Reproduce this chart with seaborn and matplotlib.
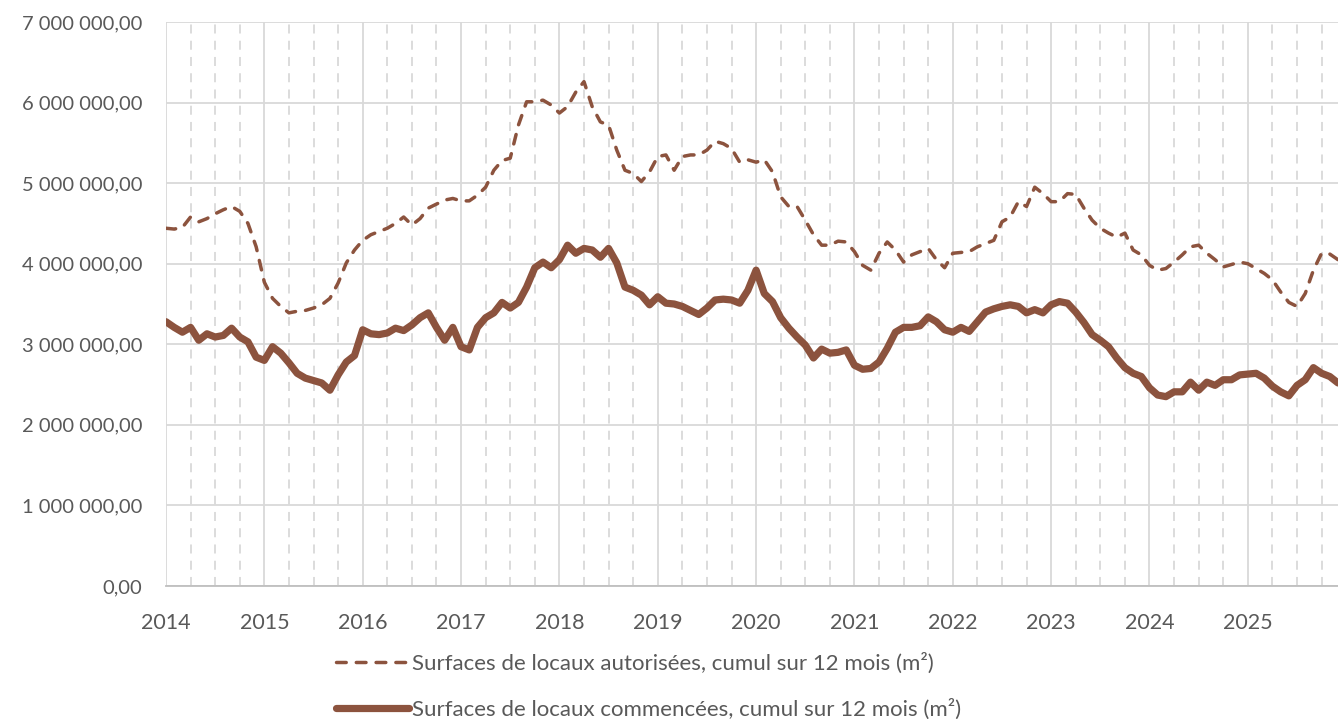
import numpy as np
import pandas as pd
import matplotlib
matplotlib.use("Agg")
import matplotlib.pyplot as plt
import seaborn as sns
from matplotlib.ticker import FuncFormatter, MultipleLocator

# -----------------------------
# Data (monthly, Jan 2014 -> Dec 2025), values in m²
# -----------------------------
annees = ["2014", "2015", "2016", "2017", "2018", "2019",
          "2020", "2021", "2022", "2023", "2024", "2025"]

autorisees = [
    # 2014
    4.44, 4.43, 4.45, 4.58, 4.52, 4.56, 4.62, 4.67, 4.71, 4.65, 4.50, 4.21,
    # 2015
    3.77, 3.57, 3.47, 3.39, 3.41, 3.42, 3.45, 3.49, 3.57, 3.76, 4.01, 4.17,
    # 2016
    4.29, 4.36, 4.40, 4.44, 4.50, 4.58, 4.48, 4.56, 4.69, 4.74, 4.79, 4.81,
    # 2017
    4.78, 4.78, 4.85, 4.95, 5.16, 5.28, 5.31, 5.72, 6.01, 6.01, 6.03, 5.97,
    # 2018
    5.87, 5.95, 6.13, 6.26, 5.95, 5.76, 5.72, 5.41, 5.16, 5.12, 5.02, 5.14,
    # 2019
    5.33, 5.35, 5.16, 5.33, 5.35, 5.35, 5.41, 5.52, 5.49, 5.43, 5.26, 5.29,
    # 2020
    5.26, 5.29, 5.14, 4.83, 4.71, 4.71, 4.54, 4.36, 4.23, 4.23, 4.28, 4.27,
    # 2021
    4.15, 3.98, 3.92, 4.13, 4.27, 4.17, 4.02, 4.11, 4.15, 4.19, 4.05, 3.95,
    # 2022
    4.13, 4.14, 4.15, 4.21, 4.25, 4.29, 4.52, 4.58, 4.77, 4.71, 4.95, 4.87,
    # 2023
    4.77, 4.77, 4.87, 4.86, 4.69, 4.54, 4.44, 4.38, 4.33, 4.38, 4.17, 4.11,
    # 2024
    3.98, 3.92, 3.94, 4.02, 4.11, 4.21, 4.23, 4.13, 4.05, 3.96, 3.99, 4.02,
    # 2025
    4.00, 3.94, 3.88, 3.80, 3.65, 3.52, 3.47, 3.63, 3.92, 4.13, 4.12, 4.05,
]

commencees = [
    # 2014
    3.28, 3.21, 3.15, 3.21, 3.05, 3.13, 3.09, 3.11, 3.20, 3.09, 3.03, 2.84,
    # 2015
    2.80, 2.97, 2.89, 2.77, 2.64, 2.58, 2.55, 2.52, 2.43, 2.62, 2.78, 2.86,
    # 2016
    3.18, 3.13, 3.12, 3.14, 3.20, 3.17, 3.24, 3.33, 3.39, 3.21, 3.05, 3.21,
    # 2017
    2.97, 2.93, 3.21, 3.33, 3.39, 3.52, 3.45, 3.52, 3.71, 3.95, 4.02, 3.95,
    # 2018
    4.05, 4.23, 4.13, 4.19, 4.17, 4.08, 4.19, 4.01, 3.71, 3.67, 3.61, 3.49,
    # 2019
    3.59, 3.51, 3.50, 3.47, 3.42, 3.37, 3.45, 3.55, 3.56, 3.55, 3.51, 3.67,
    # 2020
    3.92, 3.63, 3.53, 3.33, 3.20, 3.09, 2.99, 2.83, 2.94, 2.89, 2.90, 2.93,
    # 2021
    2.74, 2.69, 2.70, 2.78, 2.95, 3.15, 3.21, 3.21, 3.23, 3.34, 3.28, 3.18,
    # 2022
    3.15, 3.21, 3.16, 3.28, 3.40, 3.44, 3.47, 3.49, 3.47, 3.39, 3.43, 3.39,
    # 2023
    3.49, 3.53, 3.51, 3.40, 3.27, 3.12, 3.05, 2.97, 2.83, 2.71, 2.64, 2.60,
    # 2024
    2.46, 2.37, 2.35, 2.41, 2.41, 2.53, 2.43, 2.53, 2.49, 2.56, 2.56, 2.62,
    # 2025
    2.63, 2.64, 2.58, 2.48, 2.41, 2.36, 2.49, 2.56, 2.71, 2.64, 2.60, 2.52,
]

label_aut = "Surfaces de locaux autorisées, cumul sur 12 mois (m²)"
label_com = "Surfaces de locaux commencées, cumul sur 12 mois (m²)"

# -----------------------------
# Build dataframe
# -----------------------------
mois = np.arange(len(autorisees))
df = pd.DataFrame({
    "mois": mois,
    "autorisees": np.array(autorisees) * 1e6,
    "commencees": np.array(commencees) * 1e6,
})

sns.set_style("white")
plt.rcParams["font.family"] = ["Lato", "DejaVu Sans"]

couleur = "#8C533E"
gris_texte = "#595959"
gris_grille = "#D9D9D9"

fig = plt.figure(figsize=(13.38, 7.19), dpi=100)
ax = fig.add_axes([166 / 1338, (719 - 586) / 719, 1 - 166 / 1338, 564 / 719])

sns.lineplot(data=df, x="mois", y="autorisees", ax=ax, color=couleur,
             linewidth=2.5, label=label_aut, dashes=False)
sns.lineplot(data=df, x="mois", y="commencees", ax=ax, color=couleur,
             linewidth=5.2, label=label_com, dashes=False)

l_aut, l_com = ax.get_lines()[:2]
l_aut.set_dashes((2.8, 2.9))
l_aut.set_dash_capstyle("round")
l_com.set_solid_capstyle("round")
l_com.set_solid_joinstyle("round")

# -----------------------------
# Axes & grid
# -----------------------------
ax.set_xlim(0, len(mois) - 1)
ax.set_ylim(0, 7e6)

ax.set_xticks(np.arange(0, len(mois), 12))
ax.set_xticklabels(annees)
ax.xaxis.set_minor_locator(MultipleLocator(3))
ax.yaxis.set_major_locator(MultipleLocator(1e6))
ax.yaxis.set_major_formatter(FuncFormatter(
    lambda v, p: f"{v:,.2f}".replace(",", " ").replace(".", ",")))

ax.grid(axis="y", which="major", color=gris_grille, linewidth=1.3)
ax.grid(axis="x", which="major", color=gris_grille, linewidth=1.3)
ax.grid(axis="x", which="minor", color=gris_grille, linewidth=1.3,
        linestyle=(0, (5, 4)))
ax.set_axisbelow(True)

for s in ["top", "right", "left"]:
    ax.spines[s].set_visible(False)
ax.spines["bottom"].set_color("#BFBFBF")
ax.spines["bottom"].set_linewidth(1.3)

ax.tick_params(axis="x", which="major", length=6, width=1.3,
               color="#BFBFBF", labelsize=15.5, labelcolor=gris_texte, pad=13.5)
ax.tick_params(axis="x", which="minor", length=0)
ax.tick_params(axis="y", length=0, labelsize=14.5, labelcolor=gris_texte, pad=17)

ax.set_xlabel("")
ax.set_ylabel("")

# -----------------------------
# Legend below plot
# -----------------------------
handles, labels = ax.get_legend_handles_labels()
ax.get_legend().remove()
fig.legend(handles, labels, loc="upper left",
           bbox_to_anchor=(336 / 1338, 1 - 653 / 719),
           frameon=False, fontsize=16, labelcolor=gris_texte,
           handlelength=3.3, handletextpad=0.13, labelspacing=1.1,
           borderpad=0, borderaxespad=0)

fig.savefig("out.png", dpi=100)
